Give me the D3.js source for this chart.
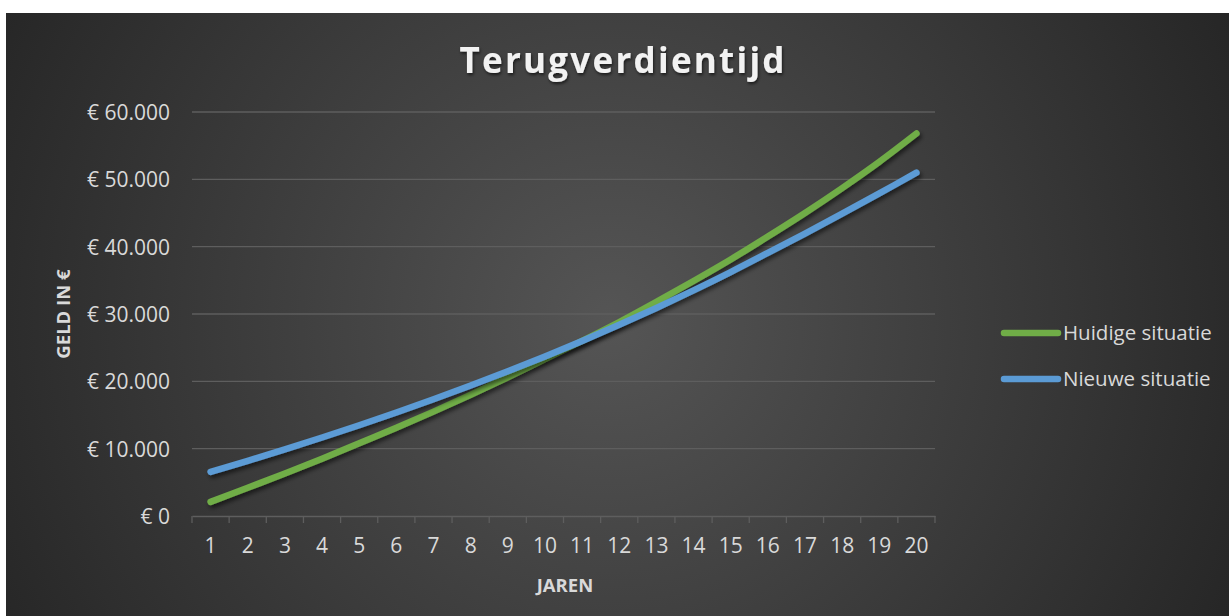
<!DOCTYPE html>
<html>
<head>
<meta charset="utf-8">
<script src="https://cdn.jsdelivr.net/npm/d3@7"></script>
<style>
  html, body { margin: 0; padding: 0; background: #ffffff; }
  svg text { font-family: "Open Sans", "Liberation Sans", sans-serif; }
</style>
</head>
<body>
<div class="chart-wrapper"></div>
<script>
// categorieen (jaren) en reeksen
var jaren = [1, 2, 3, 4, 5, 6, 7, 8, 9, 10, 11, 12, 13, 14, 15, 16, 17, 18, 19, 20];
var huidigeSituatie = [2100, 4200, 6300, 8500, 10800, 13100, 15500, 18000, 20600, 23300,
                       26000, 28800, 31800, 34900, 38100, 41500, 45000, 48700, 52600, 56800];
var nieuweSituatie = [6550, 8200, 9900, 11660, 13480, 15370, 17330, 19370, 21490, 23700,
                      26000, 28400, 30900, 33510, 36230, 39070, 41950, 44900, 47900, 51000];
var yTicks = [0, 10000, 20000, 30000, 40000, 50000, 60000];
var seriesNames = ["Huidige situatie", "Nieuwe situatie"];

var W = 1229, H = 616;
var plot = {left: 192, right: 935, top: 112, bottom: 516};

var svg = d3.select(".chart-wrapper").append("svg")
        .attr("width", W).attr("height", H);

var defs = svg.append("defs");
var grad = defs.append("radialGradient")
        .attr("id", "bgGrad")
        .attr("gradientUnits", "userSpaceOnUse")
        .attr("cx", 610).attr("cy", 320).attr("r", 720);
grad.append("stop").attr("offset", "0%").attr("stop-color", "#555555");
grad.append("stop").attr("offset", "100%").attr("stop-color", "#242424");

var shadow = defs.append("filter").attr("id", "lineShadow")
        .attr("x", "-10%").attr("y", "-10%").attr("width", "120%").attr("height", "120%");
shadow.append("feDropShadow").attr("dx", 2).attr("dy", 3).attr("stdDeviation", 2)
        .attr("flood-color", "#000").attr("flood-opacity", 0.55);

var tshadow = defs.append("filter").attr("id", "textShadow")
        .attr("x", "-10%").attr("y", "-30%").attr("width", "120%").attr("height", "160%");
tshadow.append("feDropShadow").attr("dx", 1).attr("dy", 2).attr("stdDeviation", 1.5)
        .attr("flood-color", "#000").attr("flood-opacity", 0.6);

// achtergrond
svg.append("rect")
        .attr("x", 6).attr("y", 13)
        .attr("width", W - 6).attr("height", H - 13)
        .style("fill", "url(#bgGrad)");

var x = d3.scaleBand()
        .domain(jaren)
        .range([plot.left, plot.right]);
var y = d3.scaleLinear()
        .domain([0, 60000])
        .range([plot.bottom, plot.top]);

var nl = d3.formatLocale({decimal: ",", thousands: ".", grouping: [3], currency: ["€ ", ""]});
var fmt = nl.format("$,.0f");

// rasterlijnen
svg.append("g").attr("class", "grid")
        .selectAll("line")
        .data(yTicks.filter(function (d) { return d > 0; }))
        .enter().append("line")
        .attr("x1", plot.left).attr("x2", plot.right)
        .attr("y1", function (d) { return y(d); })
        .attr("y2", function (d) { return y(d); })
        .style("stroke", "#5e5e5e")
        .style("stroke-width", 1.3);

// y-as labels
var yAxis = svg.append("g")
        .attr("class", "axis axis--y")
        .attr("transform", "translate(" + 170 + ",0)")
        .call(d3.axisLeft(y).tickValues(yTicks).tickFormat(fmt).tickSize(0).tickPadding(0));
yAxis.select(".domain").remove();
yAxis.selectAll("text")
        .style("fill", "#d9d9d9")
        .style("font-size", "21px")
        .attr("dy", "0.35em");

// x-as
var xAxis = svg.append("g")
        .attr("class", "axis axis--x")
        .attr("transform", "translate(0," + plot.bottom + ")")
        .call(d3.axisBottom(x).tickSize(0).tickPadding(22));
xAxis.select(".domain").style("stroke", "#5e5e5e").style("stroke-width", 1.3);
xAxis.selectAll("text")
        .style("fill", "#d9d9d9")
        .style("font-size", "21px");

// streepjes op de grenzen van de categorieen
var grenzen = jaren.map(function (d) { return x(d); }).concat([x(jaren[jaren.length - 1]) + x.bandwidth()]);
svg.append("g").selectAll("line")
        .data(grenzen)
        .enter().append("line")
        .attr("x1", function (d) { return d; }).attr("x2", function (d) { return d; })
        .attr("y1", plot.bottom).attr("y2", plot.bottom + 7)
        .style("stroke", "#5e5e5e")
        .style("stroke-width", 1.3);

// lijnen
var colors = ["#70ad47", "#5b9bd5"];
var reeksen = [huidigeSituatie, nieuweSituatie];
var line = d3.line()
        .x(function (d, i) { return x(jaren[i]) + x.bandwidth() / 2; })
        .y(function (d) { return y(d); })
        .curve(d3.curveCatmullRom.alpha(0.5));

svg.append("g").attr("class", "series")
        .selectAll("path")
        .data(reeksen)
        .enter().append("path")
        .attr("d", line)
        .attr("filter", "url(#lineShadow)")
        .style("fill", "none")
        .style("stroke", function (d, i) { return colors[i]; })
        .style("stroke-width", 6.5)
        .style("stroke-linecap", "round")
        .style("stroke-linejoin", "round");

// titel
svg.append("text")
        .attr("x", 622).attr("y", 73)
        .attr("text-anchor", "middle")
        .attr("filter", "url(#textShadow)")
        .attr("textLength", 325)
        .attr("lengthAdjust", "spacing")
        .style("fill", "#f2f2f2")
        .style("font-size", "35px")
        .style("font-weight", "bold")
        .text("Terugverdientijd");

// as-titels
svg.append("text")
        .attr("x", 565).attr("y", 592)
        .attr("text-anchor", "middle")
        .style("fill", "#d9d9d9")
        .style("font-size", "18.5px")
        .style("font-weight", "bold")
        .text("JAREN");

svg.append("text")
        .attr("transform", "translate(70," + (plot.top + plot.bottom) / 2 + ") rotate(-90)")
        .attr("text-anchor", "middle")
        .style("fill", "#d9d9d9")
        .style("font-size", "18.5px")
        .style("font-weight", "bold")
        .text("GELD IN €");

// legenda
var legend = svg.append("g").attr("class", "legend")
        .selectAll("g")
        .data(seriesNames)
        .enter().append("g")
        .attr("transform", function (d, i) { return "translate(1004," + (333 + i * 46) + ")"; });
legend.append("line")
        .attr("x1", 0).attr("x2", 54)
        .attr("y1", 0).attr("y2", 0)
        .style("stroke", function (d, i) { return colors[i]; })
        .style("stroke-width", 6.5)
        .style("stroke-linecap", "round");
legend.append("text")
        .attr("x", 59).attr("dy", "0.35em")
        .style("fill", "#d9d9d9")
        .style("font-size", "20.5px")
        .text(function (d) { return d; });
</script>
</body>
</html>
